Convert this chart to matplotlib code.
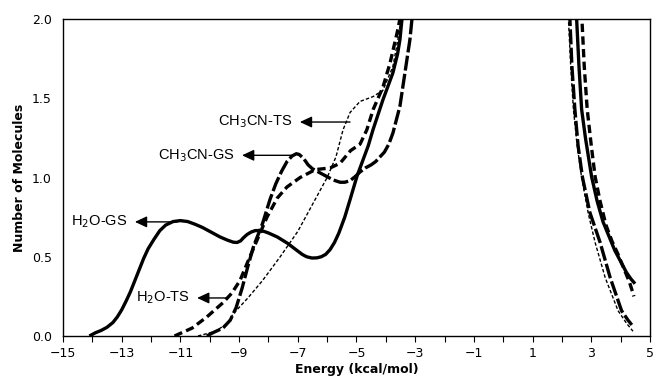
import matplotlib
matplotlib.use("Agg")
import matplotlib.pyplot as plt
import numpy as np

# H2O-GS (thick solid): low-energy branch and high-energy branch
h2o_gs_x = [-14.1, -13.9, -13.7, -13.5, -13.3, -13.15, -13.0, -12.85, -12.7, -12.55,
            -12.4, -12.25, -12.1, -11.9, -11.7, -11.5, -11.25, -11.0, -10.75, -10.5,
            -10.25, -10.0, -9.65, -9.4, -9.2, -9.07, -8.95, -8.85, -8.73, -8.6,
            -8.45, -8.3, -8.15, -8.0, -7.7, -7.35, -7.03, -6.85, -6.7, -6.52,
            -6.35, -6.2, -6.05, -5.9, -5.75, -5.6, -5.4, -5.22, -4.98, -4.78,
            -4.6, -4.44, -4.1, -3.76, -3.6, -3.52, -3.45, -3.42]
h2o_gs_y = [0.0, 0.02, 0.035, 0.055, 0.085, 0.12, 0.165, 0.22, 0.28, 0.35,
            0.42, 0.49, 0.55, 0.61, 0.665, 0.70, 0.722, 0.728, 0.722, 0.705,
            0.685, 0.66, 0.625, 0.605, 0.592, 0.59, 0.60, 0.62, 0.64, 0.655,
            0.665, 0.665, 0.66, 0.65, 0.625, 0.585, 0.54, 0.515, 0.50, 0.492,
            0.493, 0.50, 0.515, 0.545, 0.59, 0.65, 0.75, 0.86, 1.01, 1.11,
            1.20, 1.30, 1.49, 1.66, 1.78, 1.87, 2.0, 2.05]
h2o_gs_xr = [2.48, 2.5, 2.58, 2.67, 2.8, 3.01, 3.2, 3.4, 3.6, 3.8, 4.0, 4.2, 4.35, 4.49]
h2o_gs_yr = [2.05, 2.0, 1.7, 1.43, 1.25, 1.005, 0.85, 0.72, 0.63, 0.54, 0.47, 0.40, 0.36, 0.33]

# CH3CN-GS (long dash)
ch3cn_gs_x = [-10.1, -9.9, -9.55, -9.3, -9.1, -8.9, -8.7, -8.5, -8.2, -7.95,
              -7.75, -7.55, -7.37, -7.2, -7.05, -6.95, -6.8, -6.65, -6.5, -6.3,
              -6.0, -5.8, -5.56, -5.4, -5.22, -5.05, -4.88, -4.7, -4.5, -4.35,
              -4.2, -4.05, -3.9, -3.76, -3.52, -3.35, -3.18, -3.11, -3.08]
ch3cn_gs_y = [0.0, 0.02, 0.05, 0.10, 0.18, 0.30, 0.44, 0.57, 0.71, 0.86,
              0.96, 1.04, 1.10, 1.135, 1.15, 1.145, 1.12, 1.08, 1.055, 1.035,
              1.005, 0.985, 0.97, 0.97, 0.98, 1.005, 1.035, 1.06, 1.08, 1.10,
              1.13, 1.16, 1.21, 1.28, 1.45, 1.66, 1.87, 2.0, 2.05]
ch3cn_gs_xr = [2.25, 2.27, 2.34, 2.44, 2.55, 2.7, 2.95, 3.3, 3.64, 4.03, 4.25, 4.38]
ch3cn_gs_yr = [2.05, 2.0, 1.7, 1.43, 1.2, 1.0, 0.78, 0.59, 0.37, 0.16, 0.10, 0.07]

# H2O-TS (medium dash)
h2o_ts_x = [-11.2, -10.6, -10.1, -9.55, -9.25, -8.97, -8.7, -8.4, -8.05, -7.7,
            -7.37, -6.92, -6.4, -5.9, -5.56, -5.2, -4.88, -4.65, -4.43, -4.1,
            -3.86, -3.62, -3.52, -3.49]
h2o_ts_y = [0.0, 0.05, 0.12, 0.21, 0.27, 0.35, 0.47, 0.60, 0.75, 0.87,
            0.94, 1.0, 1.05, 1.06, 1.09, 1.17, 1.21, 1.30, 1.43, 1.57,
            1.72, 1.91, 2.0, 2.05]
h2o_ts_xr = [2.66, 2.68, 2.76, 2.86, 3.0, 3.13, 3.3, 3.5, 3.7, 3.9, 4.1, 4.3, 4.42, 4.45]
h2o_ts_yr = [2.05, 2.0, 1.7, 1.43, 1.2, 1.005, 0.85, 0.70, 0.60, 0.52, 0.43, 0.34, 0.27, 0.25]

# CH3CN-TS (fine dash)
ch3cn_ts_x = [-10.4, -9.8, -9.4, -9.2, -8.7, -8.2, -7.6, -7.0, -6.5, -6.0,
              -5.7, -5.46, -5.22, -4.88, -4.44, -4.1, -3.76, -3.59, -3.48, -3.45]
ch3cn_ts_y = [0.0, 0.03, 0.08, 0.14, 0.24, 0.35, 0.50, 0.66, 0.83, 1.0,
              1.13, 1.30, 1.41, 1.48, 1.51, 1.55, 1.70, 1.87, 2.0, 2.05]
ch3cn_ts_xr = [2.2, 2.22, 2.3, 2.39, 2.52, 2.67, 2.9, 3.13, 3.47, 3.91, 4.2, 4.42]
ch3cn_ts_yr = [2.05, 2.0, 1.7, 1.43, 1.2, 1.0, 0.77, 0.59, 0.37, 0.16, 0.08, 0.03]

# annotation labels: (text, arrow tail on curve x, arrow tip x, y)
labels = ["CH$_3$CN-TS", "CH$_3$CN-GS", "H$_2$O-GS", "H$_2$O-TS"]
label_tail_x = [-5.22, -7.10, -11.12, -9.41]
label_tip_x = [-6.93, -8.90, -12.55, -10.43]
label_y = [1.35, 1.14, 0.72, 0.24]


def join(xl, yl, xr, yr):
    return np.r_[xl, np.nan, xr], np.r_[yl, np.nan, yr]


fig = plt.figure(figsize=(6.54, 3.83), dpi=100)
ax = fig.add_axes([0.0963, 0.1227, 0.8976, 0.8277])

x, y = join(h2o_gs_x, h2o_gs_y, h2o_gs_xr, h2o_gs_yr)
ax.plot(x, y, color='k', lw=2.4, solid_capstyle='butt', solid_joinstyle='round')

x, y = join(ch3cn_gs_x, ch3cn_gs_y, ch3cn_gs_xr, ch3cn_gs_yr)
ax.plot(x, y, color='k', lw=2.4, dashes=(4.5, 1.0))

x, y = join(h2o_ts_x, h2o_ts_y, h2o_ts_xr, h2o_ts_yr)
ax.plot(x, y, color='k', lw=2.4, dashes=(2.5, 1.3))

x, y = join(ch3cn_ts_x, ch3cn_ts_y, ch3cn_ts_xr, ch3cn_ts_yr)
ax.plot(x, y, color='k', lw=1.0, dashes=(2.5, 1.5))

for txt, xt, xh, yy in zip(labels, label_tail_x, label_tip_x, label_y):
    ax.annotate('', xy=(xh, yy), xytext=(xt, yy),
                arrowprops=dict(arrowstyle='-|>,head_length=0.6,head_width=0.28',
                                color='k', lw=1.0, mutation_scale=12,
                                shrinkA=0, shrinkB=0))
    ax.text(xh - 0.25, yy, txt, ha='right', va='center',
            family='Liberation Sans', fontsize=10.5)

ax.set_xlim(-15, 5)
ax.set_ylim(0, 2.0)
ax.set_xticks(np.arange(-15, 6, 2))
ax.set_xticks(np.arange(-14, 5, 2), minor=True)
ax.set_yticks([0.0, 0.5, 1.0, 1.5, 2.0])
ax.set_yticklabels(['0.0', '0.5', '1.0', '1.5', '2.0'])
ax.tick_params(axis='x', which='both', direction='out', length=4, width=0.8,
               labelsize=9, pad=4)
ax.tick_params(axis='y', length=0, labelsize=9, pad=8)
for s in ax.spines.values():
    s.set_linewidth(1.0)

ax.set_xlabel('Energy (kcal/mol)', fontsize=9, fontweight='bold', labelpad=2)
ax.set_ylabel('Number of Molecules', fontsize=9, fontweight='bold', labelpad=4)

plt.savefig("out.png", dpi=100)
plt.close()
